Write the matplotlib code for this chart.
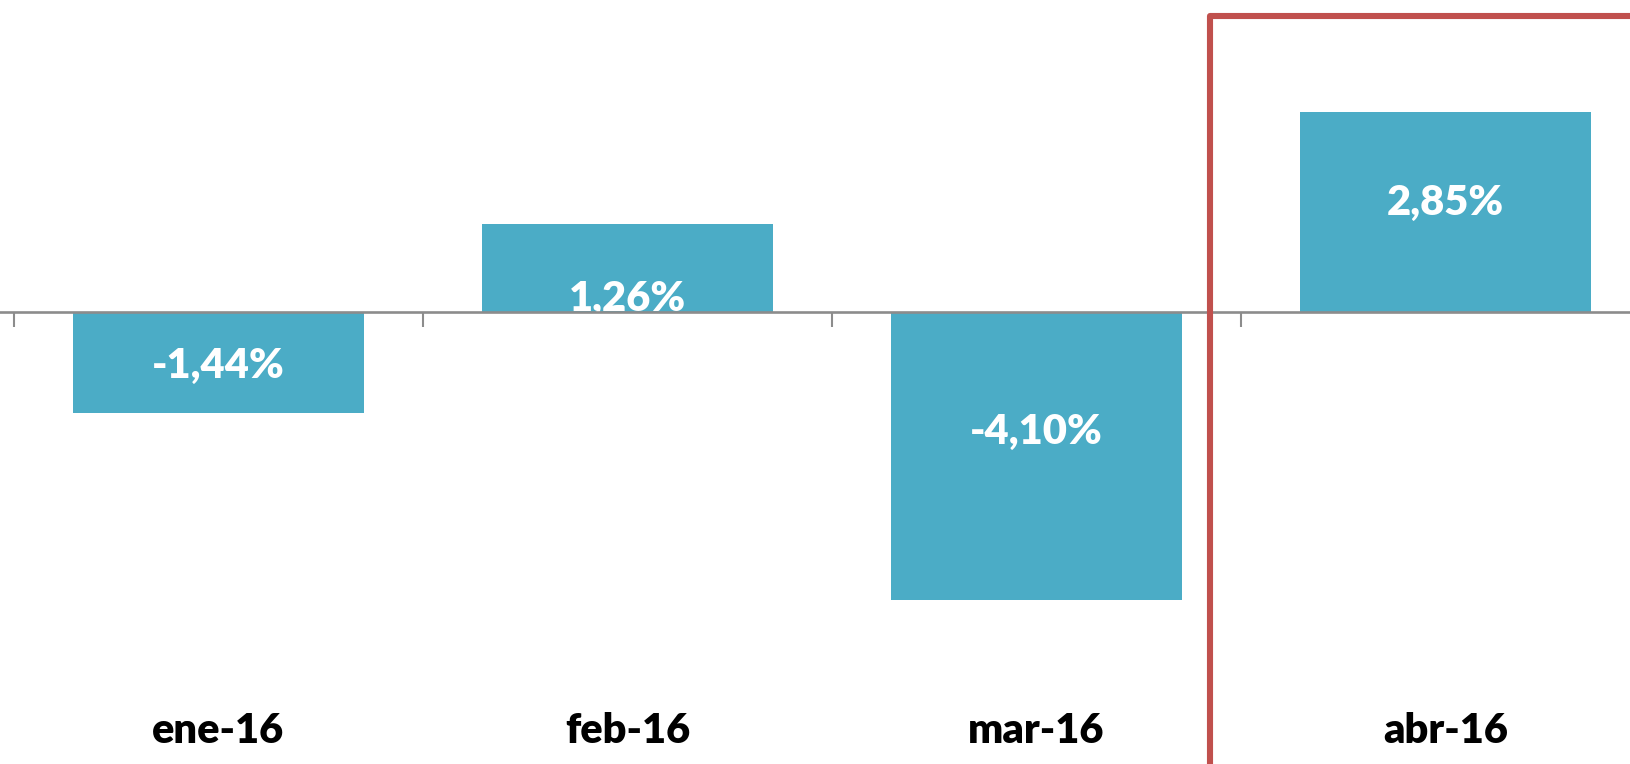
import matplotlib
matplotlib.use("Agg")
import matplotlib.pyplot as plt
from matplotlib.lines import Line2D
import matplotlib.transforms as mtransforms

# ======================
# Data
# ======================
meses = ["ene-16", "feb-16", "mar-16", "abr-16"]
valores = [-1.44, 1.26, -4.10, 2.85]
etiquetas = ["-1,44%", "1,26%", "-4,10%", "2,85%"]
# posición vertical de cada etiqueta (en unidades de %, como en el original)
etiqueta_y = [-0.77, 0.18, -1.71, 1.56]

BAR_COLOR = "#4BACC6"
AXIS_COLOR = "#8C8C8C"
BOX_COLOR = "#C0504D"
FONT = ["Lato", "DejaVu Sans"]

W, H = 1630, 764
fig = plt.figure(figsize=(W / 100, H / 100), dpi=100)
ax = fig.add_axes([0, 0, 1, 1])

# escala: 409 px por categoría, 70.2 px por 1 %
x0, px_cat = 14, 409
y0, px_pct = 312, 70.2
ax.set_xlim(-0.5 - x0 / px_cat, -0.5 + (W - x0) / px_cat)
ax.set_ylim((y0 - H) / px_pct, y0 / px_pct)
ax.axis("off")

x = list(range(len(meses)))
ax.bar(x, valores, width=0.71, color=BAR_COLOR, zorder=2)

for i, (lab, ly) in enumerate(zip(etiquetas, etiqueta_y)):
    ax.text(i, ly, lab, ha="center", va="center", color="white",
            fontsize=30, fontweight="heavy", family=FONT, zorder=3)

# eje horizontal con marcas entre categorías
ax.axhline(0, color=AXIS_COLOR, lw=1.9, zorder=5)
tick_len = 15 / px_pct
for b in [i - 0.5 for i in range(len(meses) + 1)]:
    ax.plot([b, b], [0, -tick_len], color=AXIS_COLOR, lw=1.5, zorder=5,
            solid_capstyle="butt")

trans = mtransforms.blended_transform_factory(ax.transData, ax.transAxes)
for i, m in enumerate(meses):
    ax.text(i, 1 - 731 / H, m, transform=trans, ha="center", va="center",
            fontsize=30, fontweight="heavy", family=FONT, color="black")

# recuadro rojo alrededor de abr-16
box_x, box_y = 1210 / W, 1 - 16 / H
fig.add_artist(Line2D([box_x, box_x, 1.01], [-0.01, box_y, box_y],
                      transform=fig.transFigure, color=BOX_COLOR, lw=4.4,
                      solid_joinstyle="round", zorder=10))

fig.savefig("out.png", dpi=100, facecolor="white")
